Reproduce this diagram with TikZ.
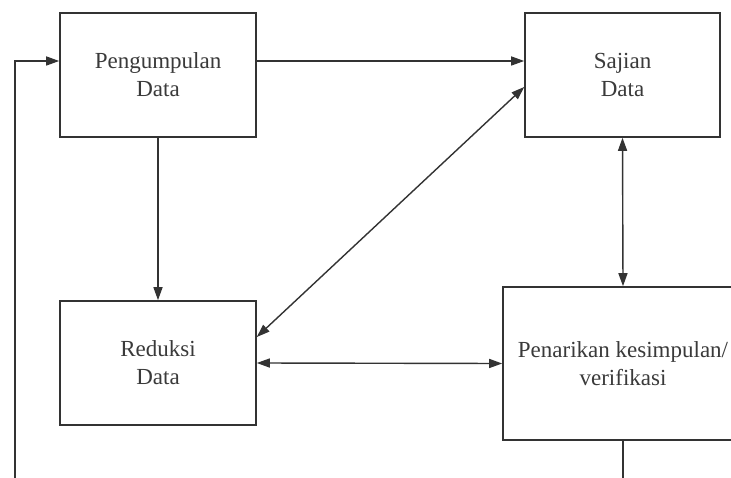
\documentclass[tikz,border=0pt]{standalone}
\usepackage{fontspec}
\setmainfont{Liberation Serif}
\usetikzlibrary{arrows.meta,positioning}
\definecolor{ln}{HTML}{333333}
\definecolor{tx}{HTML}{3A3A3A}
\begin{document}
\begin{tikzpicture}[x=1pt,y=1pt,
  box/.style={draw=ln,line width=1.6pt,rectangle,inner sep=0pt,align=center,
    text=tx,font=\fontsize{23}{28}\selectfont},
  conn/.style={draw=ln,line width=1.4pt,-{Triangle[length=13pt,width=9pt]}},
  bconn/.style={draw=ln,line width=1.4pt,{Triangle[length=13pt,width=9pt]}-{Triangle[length=13pt,width=9pt]}}]
\useasboundingbox (0,0) rectangle (731,477);
\clip (0,0) rectangle (731,477);
\fill[white] (0,0) rectangle (731,477);
\node[box,minimum width=196pt,minimum height=124pt] (peng) at (158,402) {Pengumpulan\\Data};
\node[box,minimum width=195pt,minimum height=124pt] (saj) at (622.5,402) {Sajian\\Data};
\node[box,minimum width=196pt,minimum height=124pt] (red) at (158,114) {Reduksi\\Data};
\node[box,minimum width=240pt,minimum height=153pt] (pen) at (623,113.5) {Penarikan kesimpulan/\\verifikasi};
\coordinate (fb) at (15,-20);
\draw[conn] ([yshift=14pt]peng.east) -- ([yshift=14pt]saj.west);
\draw[conn] (peng.south) -- (red.north);
\draw[bconn] ([yshift=-12pt]saj.west) -- ([yshift=26pt]red.east);
\draw[bconn] (red.east) -- (pen.west);
\draw[bconn] (saj.south) -- (pen.north);
\draw[conn] (pen.south) |- (fb) |- ([yshift=14pt]peng.west);
\end{tikzpicture}
\end{document}
